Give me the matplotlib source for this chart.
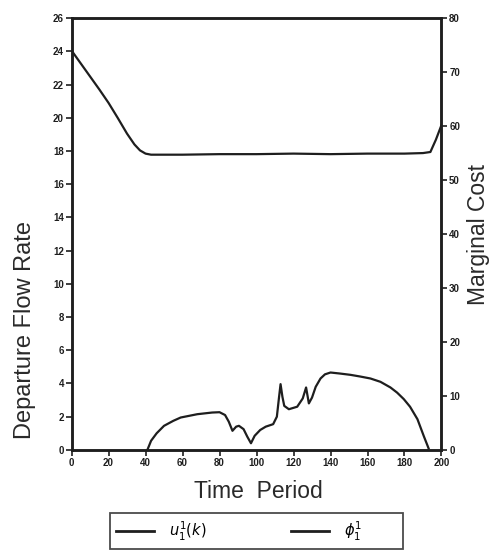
import matplotlib
matplotlib.use("Agg")
import matplotlib.pyplot as plt
import numpy as np

plt.rcParams['font.family'] = ['Liberation Sans', 'DejaVu Sans']

# Marginal cost curve (right axis)
cost_t = [0, 5, 10, 15, 20, 25, 30, 34, 37, 40, 43, 60, 80, 100, 120, 140, 160, 180, 190, 194, 197, 200]
cost_v = [74.0, 71.6, 69.2, 66.8, 64.3, 61.5, 58.6, 56.6, 55.5, 54.9, 54.7, 54.7, 54.8, 54.8, 54.9, 54.8, 54.9, 54.9, 55.0, 55.2, 57.5, 60.2]

# Departure flow rate curve (left axis)
flow_t = [41, 43, 46, 50, 55, 59, 68, 76, 80, 83, 85, 87, 89, 90.5, 93, 95, 97, 99, 102, 105, 109,
          111, 112.2, 113, 114, 115, 117.5, 122, 125, 126.8, 128.3, 130, 132, 134.6, 137, 140,
          145, 150.8, 156, 161.6, 167, 172.4, 176, 179.6, 183, 187, 190.4, 193]
flow_v = [0.0, 0.55, 1.0, 1.45, 1.75, 1.95, 2.15, 2.25, 2.27, 2.1, 1.7, 1.15, 1.4, 1.45, 1.25, 0.8, 0.4, 0.85, 1.2, 1.4, 1.55,
          2.0, 3.2, 3.96, 3.2, 2.65, 2.45, 2.6, 3.1, 3.76, 2.8, 3.15, 3.8, 4.3, 4.55, 4.66,
          4.6, 4.52, 4.42, 4.3, 4.1, 3.76, 3.45, 3.06, 2.6, 1.85, 0.84, 0.1]

x_ticks = list(range(0, 201, 20))
left_ticks = list(range(0, 27, 2))
right_ticks = list(range(0, 81, 10))
legend_labels = [r'$u_1^1(k)$', r'$\phi_1^1$']

fig = plt.figure(figsize=(4.9, 5.5), dpi=100)
ax = fig.add_axes([0.146, 0.182, 0.755, 0.785])
ax2 = ax.twinx()

lc = '#1e1e1e'
l1, = ax.plot(flow_t, flow_v, color=lc, lw=1.6)
l2, = ax2.plot(cost_t, cost_v, color=lc, lw=1.6)

ax.set_xlim(0, 200)
ax.set_ylim(0, 26)
ax2.set_ylim(0, 80)
ax.set_xticks(x_ticks)
ax.set_yticks(left_ticks)
ax2.set_yticks(right_ticks)

for a in (ax, ax2):
    for s in a.spines.values():
        s.set_linewidth(1.8)
        s.set_color(lc)

ax.tick_params(axis='both', direction='out', length=4, width=1.2, pad=1.5,
               labelsize=7, colors=lc)
ax2.tick_params(axis='y', direction='out', length=4, width=1.2, pad=1.5,
                labelsize=7, colors=lc)
for lab in ax.get_xticklabels() + ax.get_yticklabels() + ax2.get_yticklabels():
    lab.set_fontweight('bold')

fig.text(0.051, 0.40, 'Departure Flow Rate', rotation=90, ha='center', va='center',
         fontsize=17, color='#2a2a2a')
fig.text(0.527, 0.107, 'Time  Period', ha='center', va='center', fontsize=16.5, color='#2a2a2a')
fig.text(0.976, 0.573, 'Marginal Cost', rotation=90, ha='center', va='center',
         fontsize=16.5, color='#2a2a2a')

leg = fig.legend([l1, l2], [legend_labels[0], legend_labels[1] + '         '],
                 loc='upper left',
                 bbox_to_anchor=(0.224, 0.0, 0.598, 0.067), mode='expand', ncol=2,
                 frameon=True, fancybox=False, edgecolor=lc, fontsize=10.5,
                 handlelength=2.6, handletextpad=1.0, borderpad=0.45, borderaxespad=0,
                 columnspacing=4)
leg.get_frame().set_linewidth(1.3)
for h in leg.legend_handles:
    h.set_linewidth(2.0)

fig.savefig('out.png', dpi=100)
